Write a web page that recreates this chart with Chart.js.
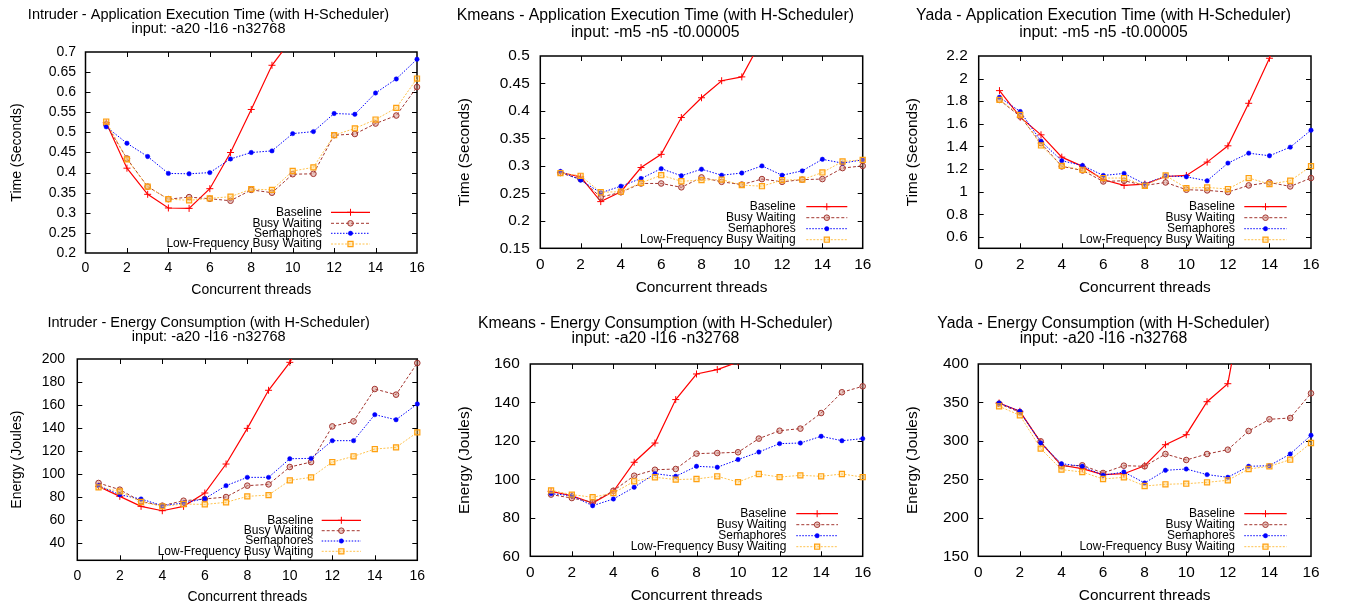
<!DOCTYPE html>
<html>
<head>
<meta charset="utf-8">
<title>H-Scheduler results</title>
<script src="https://cdn.jsdelivr.net/npm/chart.js@4.4.1/dist/chart.umd.min.js"></script>
<style>
  html, body { margin: 0; padding: 0; background: #fff; }
  body { position: relative; width: 1345px; height: 606px; overflow: hidden; }
  canvas { position: absolute; }
</style>
</head>
<body>
<canvas id="c1"></canvas>
<canvas id="c2"></canvas>
<canvas id="c3"></canvas>
<canvas id="c4"></canvas>
<canvas id="c5"></canvas>
<canvas id="c6"></canvas>
<script>
// ---- data ----
const threads = [1, 2, 3, 4, 5, 6, 7, 8, 9, 10, 11, 12, 13, 14, 15, 16];
const seriesNames = ['Baseline', 'Busy Waiting', 'Semaphores', 'Low-Frequency Busy Waiting'];
const xTicks = [0, 2, 4, 6, 8, 10, 12, 14, 16];

const intruderTimeTicks = [0.2, 0.25, 0.3, 0.35, 0.4, 0.45, 0.5, 0.55, 0.6, 0.65, 0.7];
const kmeansTimeTicks = [0.15, 0.2, 0.25, 0.3, 0.35, 0.4, 0.45, 0.5];
const yadaTimeTicks = [0.6, 0.8, 1, 1.2, 1.4, 1.6, 1.8, 2, 2.2];
const intruderEnergyTicks = [40, 60, 80, 100, 120, 140, 160, 180, 200];
const kmeansEnergyTicks = [60, 80, 100, 120, 140, 160];
const yadaEnergyTicks = [150, 200, 250, 300, 350, 400];

// values above the plotted range are not visible; only the point where the line leaves is kept
const intruderTimeBaseline = [0.524, 0.411, 0.346, 0.312, 0.311, 0.360, 0.450, 0.557, 0.667, 0.735, null, null, null, null, null, null];
const intruderTimeBusy = [0.520, 0.435, 0.365, 0.334, 0.339, 0.335, 0.330, 0.357, 0.350, 0.396, 0.397, 0.493, 0.496, 0.522, 0.542, 0.613];
const intruderTimeSem = [0.514, 0.473, 0.440, 0.398, 0.397, 0.400, 0.434, 0.450, 0.454, 0.497, 0.502, 0.547, 0.545, 0.598, 0.633, 0.682];
const intruderTimeLow = [0.527, 0.433, 0.365, 0.334, 0.331, 0.336, 0.340, 0.359, 0.357, 0.404, 0.413, 0.493, 0.510, 0.532, 0.561, 0.634];

const kmeansTimeBaseline = [0.288, 0.280, 0.235, 0.253, 0.297, 0.321, 0.388, 0.424, 0.455, 0.462, 0.530, null, null, null, null, null];
const kmeansTimeBusy = [0.287, 0.276, 0.243, 0.252, 0.268, 0.268, 0.261, 0.279, 0.271, 0.266, 0.276, 0.271, 0.275, 0.276, 0.296, 0.300];
const kmeansTimeSem = [0.290, 0.274, 0.251, 0.263, 0.277, 0.295, 0.282, 0.294, 0.283, 0.287, 0.300, 0.283, 0.291, 0.312, 0.305, 0.311];
const kmeansTimeLow = [0.287, 0.282, 0.252, 0.253, 0.269, 0.283, 0.272, 0.274, 0.275, 0.265, 0.263, 0.274, 0.275, 0.288, 0.308, 0.311];

const yadaTimeBaseline = [1.894, 1.659, 1.503, 1.306, 1.224, 1.106, 1.056, 1.068, 1.135, 1.144, 1.262, 1.406, 1.782, 2.180, 2.600, null];
const yadaTimeBusy = [1.812, 1.665, 1.430, 1.224, 1.188, 1.091, 1.097, 1.056, 1.082, 1.018, 1.012, 0.997, 1.056, 1.082, 1.047, 1.121];
const yadaTimeSem = [1.835, 1.709, 1.447, 1.274, 1.232, 1.144, 1.162, 1.068, 1.141, 1.132, 1.097, 1.253, 1.341, 1.318, 1.394, 1.544];
const yadaTimeLow = [1.812, 1.680, 1.409, 1.229, 1.194, 1.121, 1.121, 1.053, 1.144, 1.032, 1.038, 1.024, 1.121, 1.068, 1.097, 1.226];

const intruderEnergyBaseline = [89.3, 80.6, 71.9, 68.1, 71.9, 83.5, 108.7, 139.7, 172.8, 197.1, 230, null, null, null, null, null];
const intruderEnergyBusy = [92.2, 86.4, 76.2, 72.5, 76.8, 78.3, 80.0, 89.9, 91.0, 106.1, 110.4, 141.4, 145.8, 173.9, 169.0, 196.5];
const intruderEnergySem = [89.9, 82.0, 78.3, 72.5, 74.8, 78.6, 89.9, 97.1, 97.1, 113.3, 113.6, 129.0, 129.0, 151.6, 147.2, 160.9];
const intruderEnergyLow = [88.4, 84.9, 75.7, 71.9, 73.9, 73.6, 75.4, 80.6, 81.7, 94.5, 97.1, 110.4, 115.4, 121.7, 123.2, 136.2];

const kmeansEnergyBaseline = [93.8, 91.5, 87.7, 93.8, 108.9, 118.9, 141.5, 154.8, 157.1, 161.0, null, null, null, null, null, null];
const kmeansEnergyBusy = [92.1, 90.3, 88.1, 94.1, 101.9, 105.0, 105.4, 113.4, 113.7, 114.1, 121.2, 125.3, 126.4, 134.5, 145.3, 148.4];
const kmeansEnergySem = [92.6, 91.5, 86.3, 89.8, 95.9, 103.0, 101.6, 106.8, 106.3, 110.3, 114.2, 118.6, 118.9, 122.4, 120.1, 121.2];
const kmeansEnergyLow = [94.3, 92.1, 90.7, 92.9, 99.0, 101.1, 99.9, 100.2, 101.6, 98.6, 102.8, 101.2, 102.1, 101.6, 102.8, 101.2];

const yadaEnergyBaseline = [349.3, 338.5, 298.2, 268.3, 264.0, 256.2, 257.4, 267.8, 295.1, 308.1, 351.0, 374.4, 520, null, null, null];
const yadaEnergyBusy = [348.4, 337.2, 299.5, 267.0, 268.3, 258.3, 267.8, 267.0, 283.0, 275.2, 283.0, 288.6, 312.9, 328.1, 329.8, 361.9];
const yadaEnergySem = [349.3, 338.5, 297.3, 270.4, 267.0, 255.3, 259.6, 245.3, 261.8, 263.5, 256.2, 252.7, 267.0, 267.8, 283.0, 307.3];
const yadaEnergyLow = [345.0, 333.3, 290.0, 262.7, 259.6, 250.5, 252.7, 241.4, 243.6, 244.4, 246.2, 248.8, 263.5, 267.0, 275.6, 297.3];

// ---- styles ----
const FONT = "'Liberation Sans', Arial, Helvetica, sans-serif";

const seriesStyles = [
  { borderColor: '#ff0000', borderWidth: 1.2, borderDash: [], pointStyle: 'cross', pointRadius: 3.5,
    pointBorderColor: '#ff0000', pointBackgroundColor: '#ff0000', pointBorderWidth: 1 },
  { borderColor: '#a3352f', borderWidth: 1, borderDash: [3, 2], pointStyle: 'circle', pointRadius: 2.8,
    pointBorderColor: '#a3352f', pointBackgroundColor: 'rgba(205,130,120,0.45)', pointBorderWidth: 1 },
  { borderColor: '#0000ff', borderWidth: 1, borderDash: [1.5, 1.5], pointStyle: 'circle', pointRadius: 2.2,
    pointBorderColor: '#0000ff', pointBackgroundColor: '#0000ff', pointBorderWidth: 0.5 },
  { borderColor: '#ffc24d', borderWidth: 1, borderDash: [2, 1.5], pointStyle: 'rect', pointRadius: 3.6,
    pointBorderColor: '#ffa010', pointBackgroundColor: 'rgba(255,205,100,0.4)', pointBorderWidth: 1.2 }
];

// ---- panel layout ----
const panels = [
  { id: 'c1', left: 0, top: 0, width: 498, height: 303,
    title: ['Intruder - Application Execution Time (with H-Scheduler)', 'input: -a20 -l16 -n32768'],
    yTitle: 'Time (Seconds)', yMin: 0.2, yMax: 0.7, yTicks: intruderTimeTicks,
    series: [intruderTimeBaseline, intruderTimeBusy, intruderTimeSem, intruderTimeLow],
    yAxisW: 85.5, xAxisH: 50, padRight: 81, titleSize: 14.5, titleLH: 14, titlePadTop: 8, titleBlock: 52,
    tickSize: 14, yTitlePad: 8.6, xLabelPad: 6.6, xTitlePad: 4.6, yLabelGap: 9.5,
    legend: { textRight: 322, x1: 331, x2: 370, rows: [212.3, 223.3, 233.3, 244] } },
  { id: 'c2', left: 448, top: 0, width: 504, height: 303,
    title: ['Kmeans - Application Execution Time (with H-Scheduler)', 'input: -m5 -n5 -t0.00005'],
    yTitle: 'Time (Seconds)', yMin: 0.15, yMax: 0.5, yTicks: kmeansTimeTicks,
    series: [kmeansTimeBaseline, kmeansTimeBusy, kmeansTimeSem, kmeansTimeLow],
    yAxisW: 92.3, xAxisH: 54.7, padRight: 89.3, titleSize: 15.8, titleLH: 16.5, titlePadTop: 7.75, titleBlock: 56,
    tickSize: 15.4, yTitlePad: 7.8, xLabelPad: 7.5, xTitlePad: 5.8, yLabelGap: 10.6,
    legend: { textRight: 795.7, x1: 806.3, x2: 847.3, rows: [206.7, 217.7, 228.7, 239.7] } },
  { id: 'c3', left: 896, top: 0, width: 498, height: 303,
    title: ['Yada - Application Execution Time (with H-Scheduler)', 'input: -m5 -n5 -t0.00005'],
    yTitle: 'Time (Seconds)', yMin: 0.5, yMax: 2.2, yTicks: yadaTimeTicks,
    series: [yadaTimeBaseline, yadaTimeBusy, yadaTimeSem, yadaTimeLow],
    yAxisW: 82.7, xAxisH: 54.7, padRight: 83, titleSize: 15.8, titleLH: 16.5, titlePadTop: 7.75, titleBlock: 56,
    tickSize: 15.4, yTitlePad: 7.5, xLabelPad: 7.5, xTitlePad: 5.8, yLabelGap: 11,
    legend: { textRight: 1235, x1: 1244.3, x2: 1286.7, rows: [206.7, 217.7, 228.7, 239.7] } },
  { id: 'c4', left: 0, top: 303, width: 494, height: 303,
    title: ['Intruder - Energy Consumption (with H-Scheduler)', 'input: -a20 -l16 -n32768'],
    yTitle: 'Energy (Joules)', yMin: 25, yMax: 200, yTicks: intruderEnergyTicks,
    series: [intruderEnergyBaseline, intruderEnergyBusy, intruderEnergySem, intruderEnergyLow],
    yAxisW: 77.3, xAxisH: 45.7, padRight: 76.7, titleSize: 14.5, titleLH: 13.5, titlePadTop: 13.25, titleBlock: 56,
    tickSize: 14, yTitlePad: 8.3, xLabelPad: 7, xTitlePad: 0.6, yLabelGap: 12.3,
    legend: { textRight: 313.3, x1: 321.7, x2: 361, rows: [520.3, 530.7, 541, 551.3] } },
  { id: 'c5', left: 448, top: 303, width: 498, height: 303,
    title: ['Kmeans - Energy Consumption (with H-Scheduler)', 'input: -a20 -l16 -n32768'],
    yTitle: 'Energy (Joules)', yMin: 60, yMax: 160, yTicks: kmeansEnergyTicks,
    series: [kmeansEnergyBaseline, kmeansEnergyBusy, kmeansEnergySem, kmeansEnergyLow],
    yAxisW: 82.3, xAxisH: 49.7, padRight: 83.3, titleSize: 15.8, titleLH: 15, titlePadTop: 13.5, titleBlock: 61,
    tickSize: 15.4, yTitlePad: 7.5, xLabelPad: 6.8, xTitlePad: 1.1, yLabelGap: 10.6,
    legend: { textRight: 786.3, x1: 796.3, x2: 838, rows: [513.7, 524.7, 535.7, 546.7] } },
  { id: 'c6', left: 896, top: 303, width: 499, height: 303,
    title: ['Yada - Energy Consumption (with H-Scheduler)', 'input: -a20 -l16 -n32768'],
    yTitle: 'Energy (Joules)', yMin: 150, yMax: 400, yTicks: yadaEnergyTicks,
    series: [yadaEnergyBaseline, yadaEnergyBusy, yadaEnergySem, yadaEnergyLow],
    yAxisW: 82.3, xAxisH: 49.7, padRight: 84, titleSize: 15.8, titleLH: 15, titlePadTop: 13.5, titleBlock: 61,
    tickSize: 15.4, yTitlePad: 7.5, xLabelPad: 6.8, xTitlePad: 1.1, yLabelGap: 9.6,
    legend: { textRight: 1235, x1: 1244.3, x2: 1286.7, rows: [513.7, 524.7, 535.7, 546.7] } }
];

// small marker drawer for the key (same shapes as the chart points)
function drawMarker(ctx, st, x, y) {
  const r = st.pointRadius;
  ctx.save();
  ctx.setLineDash([]);
  ctx.lineWidth = st.pointBorderWidth;
  ctx.strokeStyle = st.pointBorderColor;
  ctx.fillStyle = st.pointBackgroundColor;
  ctx.beginPath();
  if (st.pointStyle === 'cross') {
    ctx.moveTo(x - r, y); ctx.lineTo(x + r, y);
    ctx.moveTo(x, y - r); ctx.lineTo(x, y + r);
    ctx.stroke();
  } else if (st.pointStyle === 'rect') {
    const s = r * Math.SQRT1_2;
    ctx.rect(x - s, y - s, 2 * s, 2 * s);
    ctx.fill(); ctx.stroke();
  } else {
    ctx.arc(x, y, r, 0, Math.PI * 2);
    ctx.fill(); ctx.stroke();
  }
  ctx.restore();
}

// gnuplot-like frame: border box, inward (mirrored) ticks and a key inside the plot
const gnuplotFrame = {
  id: 'gnuplotFrame',
  beforeDatasetsDraw(chart) {
    const { ctx, chartArea: a, scales: { x, y } } = chart;
    const tl = 5;
    ctx.save();
    ctx.strokeStyle = '#000';
    ctx.lineWidth = 1;
    ctx.beginPath();
    x.ticks.forEach(t => {
      const px = Math.round(x.getPixelForValue(t.value)) + 0.5;
      if (px <= a.left + 1 || px >= a.right - 1) return;
      ctx.moveTo(px, a.bottom); ctx.lineTo(px, a.bottom - tl);
      ctx.moveTo(px, a.top); ctx.lineTo(px, a.top + tl);
    });
    y.ticks.forEach(t => {
      const py = Math.round(y.getPixelForValue(t.value)) + 0.5;
      if (py <= a.top + 1 || py >= a.bottom - 1) return;
      ctx.moveTo(a.left, py); ctx.lineTo(a.left + tl, py);
      ctx.moveTo(a.right, py); ctx.lineTo(a.right - tl, py);
    });
    ctx.stroke();
    ctx.lineWidth = 1.5;
    ctx.strokeRect(a.left, a.top, a.right - a.left, a.bottom - a.top);
    ctx.restore();
  },
  afterDatasetsDraw(chart, args, opts) {
    const k = opts.key;
    if (!k) return;
    const ctx = chart.ctx;
    ctx.save();
    ctx.font = '12px ' + FONT;
    ctx.textAlign = 'right';
    ctx.textBaseline = 'middle';
    chart.data.datasets.forEach((ds, i) => {
      const st = seriesStyles[i];
      const yy = k.rows[i] - opts.top;
      ctx.fillStyle = '#000';
      ctx.fillText(ds.label, k.textRight - opts.left, yy);
      ctx.beginPath();
      ctx.strokeStyle = st.borderColor;
      ctx.lineWidth = st.borderWidth;
      ctx.setLineDash(st.borderDash);
      ctx.moveTo(k.x1 - opts.left, yy);
      ctx.lineTo(k.x2 - opts.left, yy);
      ctx.stroke();
      drawMarker(ctx, st, (k.x1 + k.x2) / 2 - opts.left, yy);
    });
    ctx.restore();
  }
};

function makeChart(p) {
  const canvas = document.getElementById(p.id);
  canvas.width = p.width;
  canvas.height = p.height;
  canvas.style.left = p.left + 'px';
  canvas.style.top = p.top + 'px';

  const datasets = p.series.map((vals, i) => Object.assign({
    label: seriesNames[i],
    data: threads.map((t, j) => ({ x: t, y: vals[j] })),
    tension: 0,
    fill: false,
    spanGaps: false,
    clip: { left: 10, top: 0, right: 10, bottom: 10 },
    order: seriesNames.length - i
  }, seriesStyles[i]));

  const tickFont = { family: FONT, size: p.tickSize, lineHeight: 1.2 };

  new Chart(canvas, {
    type: 'line',
    data: { datasets: datasets },
    plugins: [gnuplotFrame],
    options: {
      responsive: false,
      animation: false,
      events: [],
      layout: { padding: { left: 0, top: 0, right: p.padRight, bottom: 0 } },
      plugins: {
        legend: { display: false },
        tooltip: { enabled: false },
        title: {
          display: true,
          text: p.title,
          color: '#000',
          font: { family: FONT, size: p.titleSize, weight: 'normal', lineHeight: p.titleLH / p.titleSize },
          padding: { top: p.titlePadTop, bottom: p.titleBlock - p.titlePadTop - 2 * p.titleLH }
        },
        gnuplotFrame: { key: p.legend, left: p.left, top: p.top }
      },
      scales: {
        x: {
          type: 'linear',
          min: 0,
          max: 16,
          afterBuildTicks: axis => { axis.ticks = xTicks.map(v => ({ value: v })); },
          afterFit: axis => { axis.height = p.xAxisH; },
          grid: { display: false, drawTicks: false },
          border: { display: false },
          ticks: { color: '#000', font: tickFont, padding: p.xLabelPad, maxRotation: 0, autoSkip: false,
                   callback: v => String(v) },
          title: { display: true, text: 'Concurrent threads', color: '#000', font: tickFont,
                   padding: { top: 0, bottom: p.xTitlePad } }
        },
        y: {
          type: 'linear',
          min: p.yMin,
          max: p.yMax,
          afterBuildTicks: axis => { axis.ticks = p.yTicks.map(v => ({ value: v })); },
          afterFit: axis => { axis.width = p.yAxisW; },
          grid: { display: false, drawTicks: false },
          border: { display: false },
          ticks: { color: '#000', font: tickFont, padding: p.yLabelGap, autoSkip: false,
                   callback: v => String(v) },
          title: { display: true, text: p.yTitle, color: '#000', font: tickFont,
                   padding: { top: p.yTitlePad, bottom: 0 } }
        }
      }
    }
  });
}

panels.forEach(makeChart);
</script>
</body>
</html>
